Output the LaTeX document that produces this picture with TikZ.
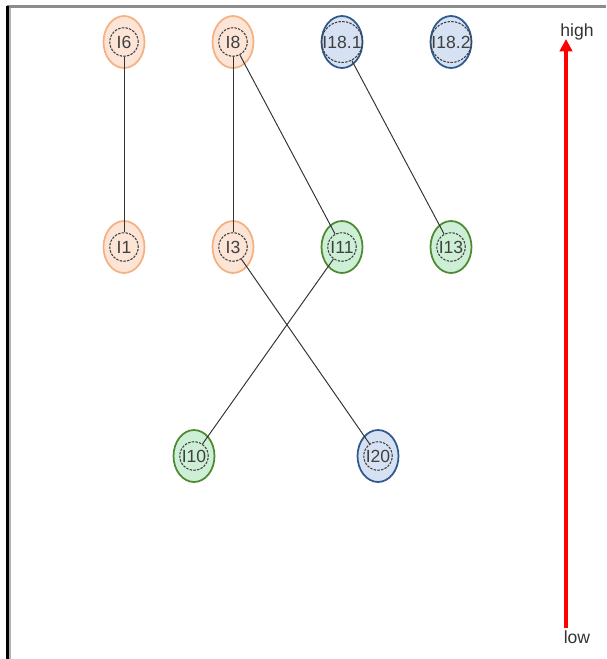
\documentclass[tikz,border=0pt]{standalone}
\usepackage{fontspec}
\setmainfont{Liberation Sans}
\usetikzlibrary{arrows.meta}
\usetikzlibrary{shapes.geometric}

\definecolor{peachfill}{HTML}{FCE4D6}
\definecolor{peachline}{HTML}{F4B183}
\definecolor{bluefill}{HTML}{D6E2F3}
\definecolor{blueline}{HTML}{2E5A8E}
\definecolor{greenfill}{HTML}{CDEFD6}
\definecolor{greenline}{HTML}{4E8A32}

\begin{document}
\begin{tikzpicture}[x=0.02cm, y=-0.02cm,
	shell/.style = {shape=ellipse, minimum width=0.82cm, minimum height=1.04cm, line width=1pt},
	orange/.style = {shell, draw=peachline, fill=peachfill},
	blue/.style = {shell, draw=blueline, fill=bluefill},
	green/.style = {shell, draw=greenline, fill=greenfill},
	core/.style = {shape=circle, draw=black!75, line width=0.6pt, dash pattern=on 1.4pt off 0.7pt,
		minimum size=0.57cm, inner sep=0pt, font=\fontsize{10}{11}\selectfont, text=black!75},
	link/.style = {draw=black!80, line width=0.55pt}]
\useasboundingbox (0,0) rectangle (606,659);

% frame
\draw[black!45, line width=1.3pt] (7,6.5) -- (606,6.5);
\draw[black, line width=1.3pt] (7.5,6) -- (7.5,659);
\draw[black!30, line width=0.8pt] (10,8) -- (10,659);

% top row
\node[orange] (o6) at (124,42) {};
\node[core] (I6) at (124,42) {I6};
\node[orange] (o8) at (233,42) {};
\node[core] (I8) at (233,42) {I8};
\node[blue] (o181) at (342,42) {};
\node[core] (I181) at (342,42) {I18.1};
\node[blue] (o182) at (451,42) {};
\node[core] (I182) at (451,42) {I18.2};

% middle row
\node[orange] (o1) at (124,247) {};
\node[core] (I1) at (124,247) {I1};
\node[orange] (o3) at (233,247) {};
\node[core] (I3) at (233,247) {I3};
\node[green] (o11) at (342,247) {};
\node[core] (I11) at (342,247) {I11};
\node[green] (o13) at (451,247) {};
\node[core] (I13) at (451,247) {I13};

% bottom row
\node[green] (o10) at (194,456) {};
\node[core] (I10) at (194,456) {I10};
\node[blue] (o20) at (378,456) {};
\node[core] (I20) at (378,456) {I20};

\draw[link] (I6) -- (I1);
\draw[link] (I8) -- (I3);
\draw[link] (I8) -- (I11);
\draw[link] (I181) -- (I13);
\draw[link] (I3) -- (I20);
\draw[link] (I11) -- (I10);

% scale
\node[font=\fontsize{10}{11}\selectfont, text=black!80] (high) at (577,32) {high};
\node[font=\fontsize{10}{11}\selectfont, text=black!80] (low) at (577,637) {low};
\coordinate (base) at (566,628);
\coordinate (top) at (566,39);
\draw[red, line width=1.8pt, -{Triangle[length=7pt, width=7pt]}] (base) -- (top);
\end{tikzpicture}
\end{document}
